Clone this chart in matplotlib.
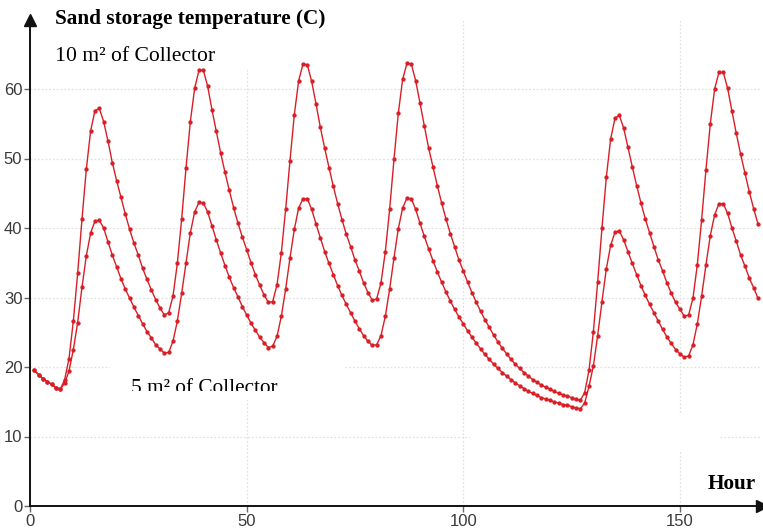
import matplotlib
matplotlib.use("Agg")
import matplotlib.pyplot as plt
from matplotlib.patches import Rectangle
from matplotlib.transforms import Bbox

# hourly sand storage temperature, hours 1..168
hours = list(range(1, 169))

temp_10m2 = [
    19.5, 18.9, 18.3, 17.9, 17.5, 17.0, 16.8,
    18.2, 21.2, 26.6, 33.5, 41.3, 48.5, 54.0, 56.9, 57.2, 55.3, 52.5, 49.4,
    46.8, 44.4, 42.0, 39.8, 37.8, 36.1, 34.2, 32.6, 31.1, 29.7,
    28.5, 27.5, 27.8,
    30.2, 34.9, 41.3, 48.6, 55.3, 60.1, 62.7, 62.7, 60.4, 57.0, 53.9, 50.8,
    48.0, 45.4, 42.9, 40.7, 38.7, 36.9, 35.0, 33.3, 31.8, 30.4, 29.3, 29.4,
    31.8, 36.4, 42.7, 49.7, 56.3, 61.2, 63.6, 63.5, 61.1, 57.9, 54.5, 51.5,
    48.7, 46.0, 43.5, 41.2, 39.1, 37.3, 35.4, 33.8, 32.1, 30.7, 29.6, 29.8,
    32.1, 36.6, 42.7, 49.9, 56.5, 61.4, 63.7, 63.6,
    61.2, 58.0, 54.7, 51.5, 48.8, 46.1, 43.6, 41.3, 39.2, 37.3,
    35.4, 33.8, 32.2, 30.7, 29.3, 28.0, 26.8, 25.7, 24.6, 23.6,
    22.7, 21.9, 21.1, 20.4, 19.8, 19.2, 18.7, 18.2, 17.8, 17.4,
    17.1, 16.8, 16.5, 16.2, 16.0, 15.8, 15.6, 15.4, 15.2,
    16.3, 19.5, 25.0, 32.2, 40.0, 47.3, 52.8, 55.8, 56.2, 54.4,
    51.6, 48.8, 46.1, 43.6, 41.3, 39.3, 37.3, 35.4, 33.8, 32.1,
    30.6, 29.3, 28.3, 27.3, 27.5,
    29.9, 34.7, 41.2, 48.4, 55.0, 60.0, 62.4, 62.4, 60.1, 56.8, 53.6, 50.6,
    47.9, 45.2, 42.8, 40.6,
]

temp_5m2 = [
    19.5, 18.9, 18.3, 17.9, 17.5, 17.0, 16.8,
    17.7, 19.4, 22.5, 26.4, 31.5, 36.0, 39.3, 41.0, 41.1, 40.0, 38.0, 36.1,
    34.4, 32.7, 31.2, 29.9, 28.6, 27.4, 26.2, 25.1, 24.2, 23.2,
    22.6, 22.0, 22.1,
    23.7, 26.6, 30.6, 35.0, 39.3, 42.3, 43.7, 43.6, 42.3, 40.3, 38.3, 36.4,
    34.6, 32.9, 31.4, 30.1, 28.7, 27.5, 26.3, 25.3, 24.3, 23.5, 22.8, 23.0,
    24.4, 27.3, 31.2, 35.7, 39.8, 42.9, 44.2, 44.2, 42.7, 40.6, 38.6, 36.6,
    34.9, 33.3, 31.7, 30.3, 29.0, 27.8, 26.6, 25.5, 24.5, 23.7, 23.1, 23.2,
    24.5, 27.3, 31.2, 35.7, 39.9, 42.9, 44.3, 44.2,
    42.7, 40.7, 38.8, 37.0, 35.3, 33.7, 32.2, 30.8, 29.5, 28.3,
    27.2, 26.2, 25.2, 24.3, 23.4, 22.6, 21.8, 21.1, 20.4, 19.8,
    19.2, 18.7, 18.2, 17.7, 17.3, 16.9, 16.5, 16.2, 15.9, 15.6,
    15.4, 15.2, 15.0, 14.8, 14.6, 14.5, 14.3, 14.1, 14.0,
    14.8, 17.2, 20.1, 24.5, 29.4, 34.1, 37.5, 39.4, 39.6, 38.3,
    36.6, 34.9, 33.3, 31.7, 30.3, 29.0, 27.8, 26.6, 25.4, 24.3,
    23.4, 22.5, 21.9, 21.4, 21.6,
    23.2, 26.2, 30.2, 34.7, 38.9, 41.9, 43.5, 43.5, 42.1, 40.0, 38.1, 36.1,
    34.5, 32.8, 31.4, 29.9,
]

x_ticks = [0, 50, 100, 150]
y_ticks = [0, 10, 20, 30, 40, 50, 60]

W, H = 763, 528
RED = "#d81e26"
SERIF = "Liberation Serif"


def px(x, y):
    """pixel (from top-left) -> figure fraction"""
    return x / W, 1 - y / H


fig = plt.figure(figsize=(W / 100, H / 100), dpi=100)
ax = fig.add_axes([30 / W, (H - 506) / H, 732.3 / W, 486.5 / H])

ax.set_xlim(0, 169)
ax.set_ylim(0, 70)
ax.set_xticks(x_ticks)
ax.set_yticks(y_ticks)
ax.set_axisbelow(True)
ax.grid(True, color="#e2e2e2", linestyle=(0, (1.5, 1.5)), linewidth=0.9)

for side in ("top", "right"):
    ax.spines[side].set_visible(False)
for side in ("left", "bottom"):
    ax.spines[side].set_linewidth(1.4)
    ax.spines[side].set_color("#111111")

ax.tick_params(direction="out", length=4, width=1, color="#666666",
               labelcolor="#3a3a3a", labelsize=12, pad=1.5)
for lab in ax.get_xticklabels() + ax.get_yticklabels():
    lab.set_fontfamily("Liberation Sans")

# arrow heads on the axes
ax.plot(0, 1, marker="^", color="#111111", markersize=8,
        transform=ax.transAxes, clip_on=False)
ax.plot(1, 0, marker=">", color="#111111", markersize=8,
        transform=ax.transAxes, clip_on=False)

# white patches left over in the original figure
for (x0, y0, x1, y1) in [(35, 15, 250, 70), (110, 358, 345, 400), (470, 413, 720, 452)]:
    fx0, fy1 = px(x0, y0)
    fx1, fy0 = px(x1, y1)
    ax.add_patch(Rectangle((fx0, fy0), fx1 - fx0, fy1 - fy0, transform=fig.transFigure,
                           facecolor="white", edgecolor="none", zorder=1))

ax.plot(hours, temp_10m2, color=RED, linewidth=1.0, marker="o", markersize=2.1, zorder=3)
ax.plot(hours, temp_5m2, color=RED, linewidth=1.0, marker="o", markersize=2.1, zorder=3)

fig.text(*px(55, 24), "Sand storage temperature (C)", fontfamily=SERIF,
         fontweight="bold", fontsize=15.3, ha="left", va="baseline")
fig.text(*px(55, 61), "10 m\u00b2 of Collector", fontfamily=SERIF,
         fontsize=15.6, ha="left", va="baseline")
t5 = fig.text(*px(131, 393), "5 m\u00b2 of Collector", fontfamily=SERIF,
              fontsize=15.3, ha="left", va="baseline")
t5.set_clip_box(Bbox.from_extents(0, H - 391, W, H))
t5.set_clip_on(True)
fig.text(*px(708, 489), "Hour", fontfamily=SERIF, fontweight="bold",
         fontsize=15.3, ha="left", va="baseline")

fig.savefig("out.png", dpi=100, facecolor="white")
